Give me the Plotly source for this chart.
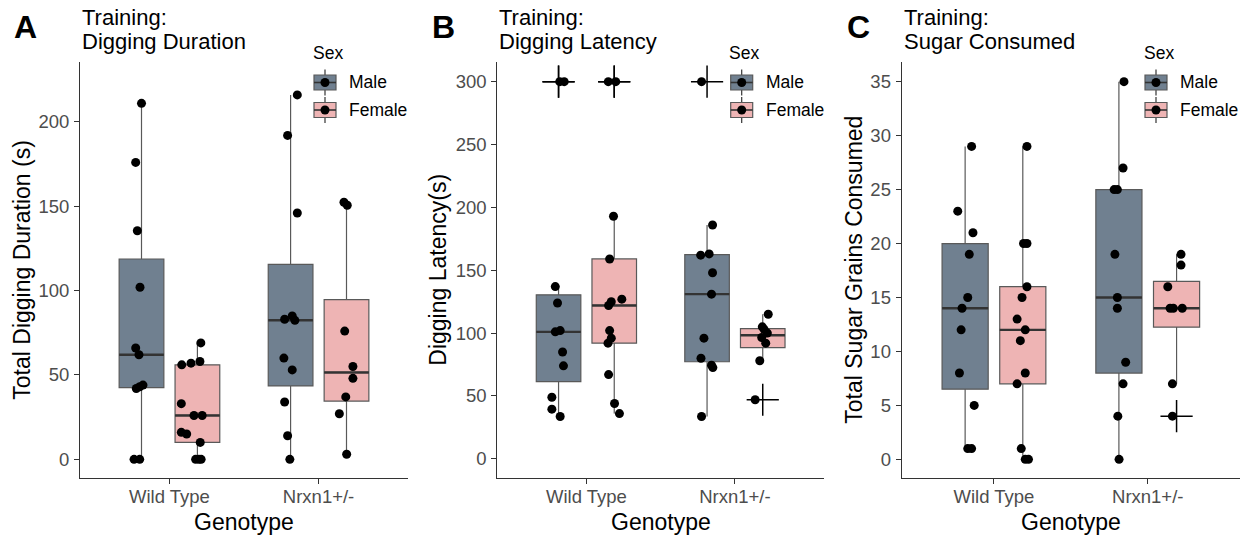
import numpy as np
import plotly.graph_objects as go

W, H = 1247, 535

genotype_labels = ["Wild Type", "Nrxn1+/-"]
sex_labels = ["Male", "Female"]
sex_fill = {"Male": "#708090", "Female": "#EEB4B4"}

# ---- Panel A: training digging duration (s) ----
dur_wt_male = [211, 176, 135.5, 102, 66, 62, 44, 43, 42, 0, 0]
dur_wt_male_jitter = [0.0, -0.039, -0.028, -0.010, -0.039, -0.017, 0.010, -0.012, -0.035, -0.050, -0.012]
dur_wt_female = [69, 58, 57, 56, 33, 26, 26, 16, 15, 10, 0, 0, 0]
dur_wt_female_jitter = [0.023, 0.017, -0.043, -0.105, -0.108, -0.023, 0.032, -0.108, -0.072, 0.019, -0.012, 0.010, 0.025]
dur_het_male = [216, 192, 146, 85, 83, 82.4, 60, 53, 34, 14, 0]
dur_het_male_jitter = [0.045, -0.020, 0.045, 0.011, -0.040, 0.029, -0.045, 0.011, -0.040, -0.020, -0.005]
dur_het_female = [152.4, 150.6, 76, 55, 48, 37, 27, 3]
dur_het_female_jitter = [-0.017, 0.005, -0.012, 0.043, 0.043, -0.005, -0.048, 0.001]

# ---- Panel B: training digging latency (s) ----
lat_wt_male = [300, 300, 137, 124, 102, 101, 85, 74, 49, 39.5, 33.7]
lat_wt_male_jitter = [0.008, 0.038, -0.022, -0.007, 0.011, -0.022, 0.027, 0.033, -0.045, -0.045, 0.011]
lat_wt_female = [300, 300, 193, 159, 127, 125, 122, 102, 96, 92, 67, 44, 36]
lat_wt_female_jitter = [-0.040, 0.010, -0.005, -0.031, 0.051, -0.020, -0.038, -0.031, -0.020, -0.042, -0.038, 0.002, 0.035]
lat_het_male = [300, 186, 163, 162, 148, 131, 96, 80, 74.5, 72.6, 33.7]
lat_het_male_jitter = [-0.037, 0.037, 0.014, -0.043, 0.037, 0.030, -0.021, -0.041, 0.030, 0.039, -0.037]
lat_het_female = [115, 105, 103, 100, 96.5, 92, 78, 47]
lat_het_female_jitter = [0.037, -0.003, 0.009, 0.031, -0.007, 0.020, -0.020, -0.051]

# ---- Panel C: sugar grains consumed ----
sug_wt_male = [29, 23, 21, 19, 15, 14, 12, 8, 5, 1, 1]
sug_wt_male_jitter = [0.042, -0.048, 0.051, 0.027, 0.017, -0.020, -0.026, -0.037, 0.059, 0.017, 0.042]
sug_wt_female = [29, 20, 20, 16, 15, 13, 12, 11, 8, 7, 1, 0, 0]
sug_wt_female_jitter = [0.027, 0.005, 0.027, 0.027, -0.005, -0.037, 0.016, -0.016, 0.016, -0.037, -0.010, 0.016, 0.037]
sug_het_male = [35, 27, 25, 25, 19, 15, 14, 9, 7, 4, 0]
sug_het_male_jitter = [0.033, 0.027, -0.031, -0.010, -0.026, -0.010, -0.010, 0.044, 0.027, -0.007, 0.001]
sug_het_female = [19, 18, 16, 14, 14, 14, 7, 4]
sug_het_female_jitter = [0.029, 0.029, -0.057, -0.042, -0.021, 0.037, -0.027, -0.027]

panels = [
    dict(letter="A", title=["Training:", "Digging Duration"],
         ytitle="Total Digging Duration (s)", yrange=[-10.9, 235.7],
         yticks=[0, 50, 100, 150, 200],
         left=80, right=408, ytitle_x=22, letter_x=12, legend_x=314,
         groups=[[(dur_wt_male, dur_wt_male_jitter), (dur_wt_female, dur_wt_female_jitter)],
                 [(dur_het_male, dur_het_male_jitter), (dur_het_female, dur_het_female_jitter)]]),
    dict(letter="B", title=["Training:", "Digging Latency"],
         ytitle="Digging Latency(s)", yrange=[-15, 315.9],
         yticks=[0, 50, 100, 150, 200, 250, 300],
         left=497.3, right=824, ytitle_x=438, letter_x=430, legend_x=730.7,
         groups=[[(lat_wt_male, lat_wt_male_jitter), (lat_wt_female, lat_wt_female_jitter)],
                 [(lat_het_male, lat_het_male_jitter), (lat_het_female, lat_het_female_jitter)]]),
    dict(letter="C", title=["Training:", "Sugar Consumed"],
         ytitle="Total Sugar Grains Consumed", yrange=[-1.7, 36.85],
         yticks=[0, 5, 10, 15, 20, 25, 30, 35],
         left=901.7, right=1240, ytitle_x=854, letter_x=845, legend_x=1145,
         groups=[[(sug_wt_male, sug_wt_male_jitter), (sug_wt_female, sug_wt_female_jitter)],
                 [(sug_het_male, sug_het_male_jitter), (sug_het_female, sug_het_female_jitter)]]),
]

PLOT_TOP, PLOT_BOTTOM = 61.7, 477.7
DODGE = 0.1875
BOX_W = 0.3
FONT = "Liberation Sans, Arial, sans-serif"


def px(x):
    return x / W


def py(y):
    return 1 - y / H


def label(text, x, y, size, xanchor="left", angle=0, color="black"):
    return dict(text=text, x=px(x), y=py(y), xref="paper", yref="paper",
                xanchor=xanchor, yanchor="middle", textangle=angle, showarrow=False,
                font=dict(family=FONT, size=size, color=color))


fig = go.Figure()
shapes = []
annotations = []

for i, p in enumerate(panels):
    n = "" if i == 0 else str(i + 1)
    xa, ya = "x" + n, "y" + n
    for g, pair in enumerate(p["groups"]):
        for s, (vals, jit) in enumerate(pair):
            sex = sex_labels[s]
            xc = g + 1 + (-DODGE if s == 0 else DODGE)
            v = np.array(vals, dtype=float)
            q1, med, q3 = np.percentile(v, [25, 50, 75])
            iqr = q3 - q1
            lo, hi = q1 - 1.5 * iqr, q3 + 1.5 * iqr
            inside = v[(v >= lo) & (v <= hi)]
            outliers = v[(v < lo) | (v > hi)]
            fig.add_trace(go.Box(
                x=[xc], q1=[q1], median=[med], q3=[q3],
                lowerfence=[inside.min()], upperfence=[inside.max()],
                orientation="v", width=BOX_W, whiskerwidth=0,
                fillcolor=sex_fill[sex], line=dict(color="#595959", width=1.2),
                xaxis=xa, yaxis=ya, showlegend=False, hoverinfo="skip"))
            fig.add_trace(go.Scatter(
                x=[xc - BOX_W / 2, xc + BOX_W / 2], y=[med, med], mode="lines",
                line=dict(color="#333333", width=2.4),
                xaxis=xa, yaxis=ya, showlegend=False, hoverinfo="skip"))
            if len(outliers):
                fig.add_trace(go.Scatter(
                    x=[xc] * len(outliers), y=outliers, mode="markers",
                    marker=dict(symbol="cross-thin", size=23, color="black",
                                line=dict(color="black", width=1.5)),
                    xaxis=xa, yaxis=ya, showlegend=False, hoverinfo="skip"))
            fig.add_trace(go.Scatter(
                x=xc + np.array(jit), y=v, mode="markers",
                marker=dict(size=9, color="black"),
                xaxis=xa, yaxis=ya, showlegend=False, hoverinfo="skip"))

    axis_common = dict(showline=True, linecolor="#333333", linewidth=1.1,
                       ticks="outside", ticklen=5, tickwidth=1.1, tickcolor="#333333",
                       tickfont=dict(family=FONT, size=18.5, color="#4D4D4D"),
                       showgrid=False, zeroline=False)
    fig.update_layout(**{
        "xaxis" + n: dict(domain=[px(p["left"]), px(p["right"])], range=[0.4, 2.6],
                          tickvals=[1, 2], ticktext=genotype_labels,
                          anchor=ya, ticklabelstandoff=-3, **axis_common),
        "yaxis" + n: dict(domain=[py(PLOT_BOTTOM), py(PLOT_TOP)], range=p["yrange"],
                          tickvals=p["yticks"], anchor=xa, ticklabelstandoff=1,
                          **axis_common),
    })

    # panel letter and two-line title
    annotations.append(label("<b>%s</b>" % p["letter"], p["letter_x"], 27, 32))
    annotations.append(label(p["title"][0], p["left"], 18, 22))
    annotations.append(label(p["title"][1], p["left"], 41, 22))
    # axis titles
    annotations.append(label(p["ytitle"], p["ytitle_x"], (PLOT_TOP + PLOT_BOTTOM) / 2, 23,
                             xanchor="center", angle=-90))
    annotations.append(label("Genotype", (p["left"] + p["right"]) / 2, 522, 23, xanchor="center"))

    # legend: Sex
    lx = p["legend_x"]
    annotations.append(label("Sex", lx - 3.5, 53, 17.5))
    for k, sex in enumerate(sex_labels):
        cy = 82.5 + 27.5 * k
        cx = lx + 11
        shapes.append(dict(type="line", xref="paper", yref="paper",
                           x0=px(cx), x1=px(cx), y0=py(cy - 13), y1=py(cy + 13),
                           line=dict(color="#333333", width=1.2)))
        shapes.append(dict(type="rect", xref="paper", yref="paper",
                           x0=px(lx), x1=px(lx + 22), y0=py(cy - 7.5), y1=py(cy + 7.5),
                           fillcolor=sex_fill[sex], line=dict(color="#595959", width=1.2)))
        shapes.append(dict(type="line", xref="paper", yref="paper",
                           x0=px(lx), x1=px(lx + 22), y0=py(cy), y1=py(cy),
                           line=dict(color="#333333", width=1.6)))
        shapes.append(dict(type="circle", xref="paper", yref="paper",
                           x0=px(cx - 4.5), x1=px(cx + 4.5), y0=py(cy - 4.5), y1=py(cy + 4.5),
                           fillcolor="black", line=dict(color="black", width=0)))
        annotations.append(label(sex, lx + 33, cy, 17.5))

fig.update_layout(
    width=W, height=H, margin=dict(l=0, r=0, t=0, b=0),
    paper_bgcolor="white", plot_bgcolor="white",
    boxmode="overlay", showlegend=False,
    shapes=shapes, annotations=annotations,
    font=dict(family=FONT),
)

fig.write_html("out.html")
